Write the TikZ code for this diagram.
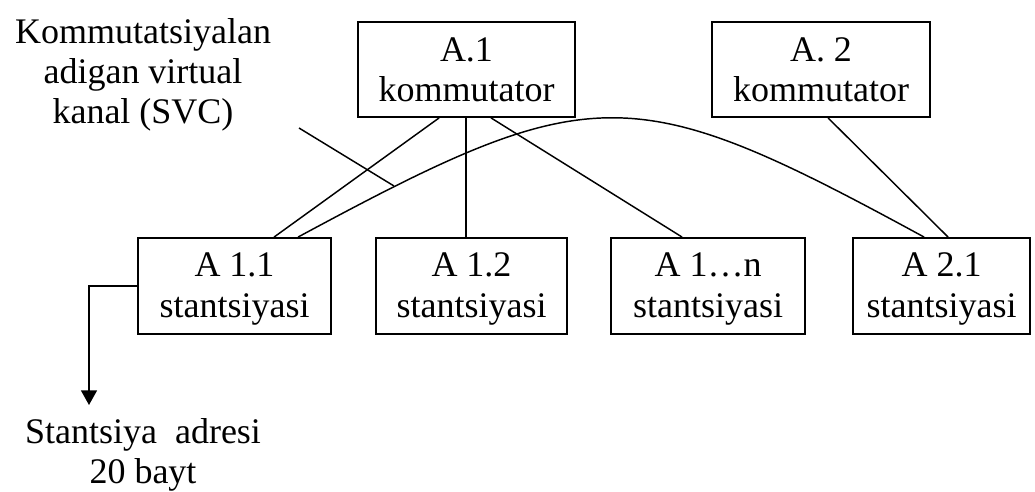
\documentclass[tikz,border=0pt]{standalone}
\usepackage{fontspec}
\setmainfont{Liberation Serif}
\usetikzlibrary{calc,arrows.meta}
\newcommand{\tstrut}{\rule{0pt}{22pt}}
\begin{document}
\begin{tikzpicture}[x=0.75pt,y=-0.75pt,
  box/.style={draw,line width=1.4pt,inner sep=0pt,align=center,
    minimum height=72pt,font=\fontsize{27}{30.5}\selectfont},
  conn/.style={line width=1.1pt},
  lbl/.style={inner sep=0pt,align=center,anchor=north,font=\fontsize{27}{30}\selectfont}]
\useasboundingbox (0,0) rectangle (1035,492);
% switches
\node[box,minimum width=162.75pt,minimum height=71.25pt,font=\fontsize{27}{30}\selectfont] (k1) at (466.5,69.5) {A.1\\kommutator};
\node[box,minimum width=163.5pt,minimum height=71.25pt,font=\fontsize{27}{30}\selectfont] (k2) at (821,69.5) {A. 2\\kommutator};
% stations
\node[box,minimum width=144.75pt] (s11) at (234.5,286) {\tstrut A 1.1\\stantsiyasi};
\node[box,minimum width=143.25pt] (s12) at (471.5,286) {\tstrut A 1.2\\stantsiyasi};
\node[box,minimum width=145.5pt] (s1n) at (708,286) {\tstrut A 1…n\\stantsiyasi};
\node[box,minimum width=132.75pt] (s21) at (941.5,286) {\tstrut A 2.1\\stantsiyasi};
% labels
\node[lbl] (svc) at (143,18.4) {Kommutatsiyalan\\adigan virtual\\kanal (SVC)};
\node[lbl,font=\fontsize{27}{30.5}\selectfont] (addr) at (143,418) {Stantsiya~ adresi\\20 bayt};
% connectors
\draw[conn] ($(k1.south west)+(82,0)$) -- ($(s11.north west)+(137,0)$);
\draw[conn] ($(k1.south west)+(109,0)$) -- ($(s12.north west)+(91,0)$);
\draw[conn] ($(k1.south west)+(134,0)$) -- ($(s1n.north west)+(72,0)$);
\draw[conn] ($(k2.south west)+(117,0)$) -- ($(s21.north west)+(96,0)$);
\draw[conn] ($(s11.north west)+(161,0)$) .. controls (593,78) and (632,78) .. ($(s21.north west)+(72,0)$);
\coordinate (p1) at (299,128);
\coordinate (p2) at (394,186);
\draw[conn] (p1) -- (p2);
\coordinate (tip) at (89,405);
\draw[conn,-{Triangle[width=12pt,length=11pt]}] (s11.west) -| (tip);
\end{tikzpicture}
\end{document}
